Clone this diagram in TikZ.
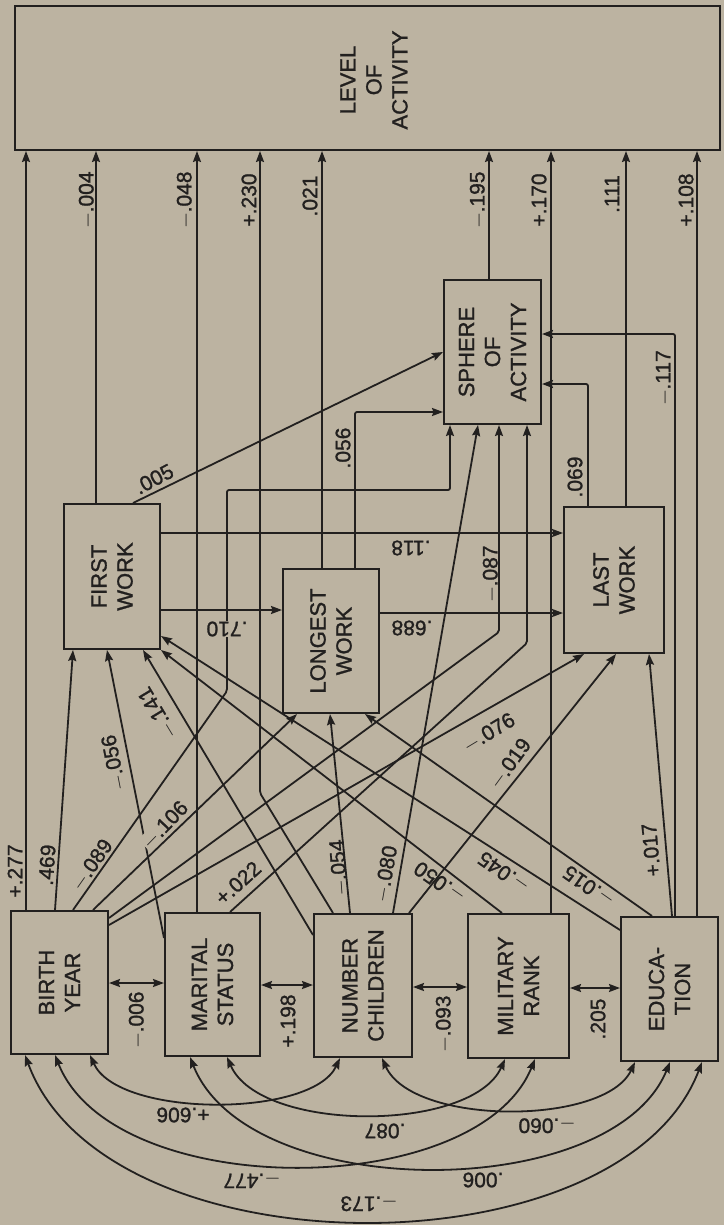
\documentclass[tikz,border=0pt]{standalone}
\usepackage{fontspec}
\setmainfont{Liberation Sans}[BoldFont=Liberation Sans,BoldFeatures={FakeBold=1.2}]
\usetikzlibrary{arrows.meta,calc}
\definecolor{bg}{RGB}{188,179,161}
\definecolor{ink}{RGB}{34,32,31}
\begin{document}
\begin{tikzpicture}[x=1pt,y=-1pt,
  arr/.tip={Stealth[length=11pt,width=8pt,inset=1.5pt]},
  box/.style={draw=ink,line width=2pt,inner sep=0pt,anchor=north west},
  conn/.style={draw=ink,line width=1.8pt,-arr,rounded corners=2pt},
  biconn/.style={draw=ink,line width=1.8pt,arr-arr},
  lbl/.style={text=ink,font=\fontsize{21}{25}\selectfont\bfseries,inner sep=1pt},
  lblf/.style={lbl,fill=bg},
  boxtext/.style={text=ink,font=\fontsize{22}{26}\selectfont\bfseries,align=center,rotate=90,inner sep=0pt}]
\useasboundingbox (0,0) rectangle (724,1225);
\fill[bg] (0,0) rectangle (724,1225);
% boxes
\node[box,minimum width=705,minimum height=144] (LA) at (14,5) {};
\node[box,minimum width=97,minimum height=144] (SA) at (443,279) {};
\node[box,minimum width=96,minimum height=145] (FW) at (63,503) {};
\node[box,minimum width=96,minimum height=144] (LW) at (282,568) {};
\node[box,minimum width=100,minimum height=146] (LaW) at (563,506) {};
\node[box,minimum width=97,minimum height=143] (BY) at (10,910) {};
\node[box,minimum width=95,minimum height=143] (MS) at (164,912) {};
\node[box,minimum width=98,minimum height=143] (NC) at (313,913) {};
\node[box,minimum width=101,minimum height=144] (MR) at (467,913) {};
\node[box,minimum width=97,minimum height=144] (ED) at (620,916) {};
\node[boxtext] at (374,80) {LEVEL\\OF\\ACTIVITY};
\node[boxtext] at (SA) {SPHERE\\OF\\ACTIVITY};
\node[boxtext] at (FW) {FIRST\\WORK};
\node[boxtext] at (LW) {LONGEST\\WORK};
\node[boxtext] at (LaW) {LAST\\WORK};
\node[boxtext] at (BY) {BIRTH\\YEAR};
\node[boxtext] at (MS) {MARITAL\\STATUS};
\node[boxtext] at (NC) {NUMBER\\CHILDREN};
\node[boxtext] at (MR) {MILITARY\\RANK};
\node[boxtext] at (ED) {EDUCA-\\TION};
% into level of activity
\draw[conn] (26,0 |- BY.north) -- (26,0 |- LA.south);
\draw[conn] (96,0 |- FW.north) -- (96,0 |- LA.south);
\draw[conn] (197,0 |- MS.north) -- (197,0 |- LA.south);
\draw[conn] (333,0 |- NC.north) -- (260,793) -- (260,0 |- LA.south);
\draw[conn] (322,0 |- LW.north) -- (322,0 |- LA.south);
\draw[conn] (489,0 |- SA.north) -- (489,0 |- LA.south);
\draw[conn] (551,0 |- MR.north) -- (551,0 |- LA.south);
\draw[conn] (626,0 |- LaW.north) -- (626,0 |- LA.south);
\draw[conn] (697,0 |- ED.north) -- (697,0 |- LA.south);
% into sphere of activity
\draw[conn] (675,0 |- ED.north) -- (675,334) -- (SA.east |- 0,334);
\draw[conn] (588,0 |- LaW.north) -- (588,384) -- (SA.east |- 0,384);
\draw[conn] (133,0 |- FW.north) -- (SA.west |- 0,352);
\draw[conn] (355,0 |- LW.north) -- (355,412) -- (SA.west |- 0,412);
\draw[conn] (73,0 |- BY.north) -- (227,691) -- (227,490) -- (450,490) -- (450,0 |- SA.south);
\draw[conn] (393,0 |- NC.north) -- (478,0 |- SA.south);
\draw[conn] (BY.east |- 0,918) -- (499,632) -- (499,0 |- SA.south);
\draw[conn] (230,0 |- MS.north) -- (527,643) -- (527,0 |- SA.south);
% into first work
\draw[conn] (55,0 |- BY.north) -- (73,0 |- FW.south);
\draw[conn] (MS.west |- 0,938) -- (107,0 |- FW.south);
\draw[conn] (NC.west |- 0,935) -- (143,0 |- FW.south);
\draw[conn] (502,0 |- MR.north) -- (FW.south east);
\draw[conn] (ED.west |- 0,930) -- (FW.east |- 0,636);
% into longest work
\draw[conn] (FW.east |- 0,610) -- (LW.west |- 0,610);
\draw[conn] (93,0 |- BY.north) -- (297,0 |- LW.south);
\draw[conn] (350,0 |- NC.north) -- (330,0 |- LW.south);
\draw[conn] (652,0 |- ED.north) -- (365,0 |- LW.south);
% into last work
\draw[conn] (FW.east |- 0,533) -- (LaW.west |- 0,533);
\draw[conn] (LW.east |- 0,613) -- (LaW.west |- 0,613);
\draw[conn] (BY.east |- 0,925) -- (584,0 |- LaW.south);
\draw[conn] (409,0 |- NC.north) -- (616,0 |- LaW.south);
\draw[conn] (672,0 |- ED.north) -- (649,0 |- LaW.south);
% correlations
\draw[biconn] (BY.east |- 0,983) -- (MS.west |- 0,983);
\draw[biconn] (MS.east |- 0,985) -- (NC.west |- 0,985);
\draw[biconn] (NC.east |- 0,987) -- (MR.west |- 0,987);
\draw[biconn] (MR.east |- 0,988) -- (ED.west |- 0,988);
\draw[biconn] (90,0 |- BY.south) .. controls (118,1118) and (312,1118) .. (340,0 |- NC.south);
\draw[biconn] (227,0 |- MS.south) .. controls (260,1133) and (472,1133) .. (505,0 |- MR.south);
\draw[biconn] (382,0 |- NC.south) .. controls (412,1126) and (605,1126) .. (635,0 |- ED.south);
\draw[biconn] (55,0 |- BY.south) .. controls (113,1202) and (477,1202) .. (535,0 |- MR.south);
\draw[biconn] (190,0 |- MS.south) .. controls (248,1204) and (612,1204) .. (670,0 |- ED.south);
\draw[biconn] (25,0 |- BY.south) .. controls (106,1275) and (621,1275) .. (702,0 |- ED.south);
% labels
\node[lbl,rotate=90] at (87,200) {$-$.004};
\node[lbl,rotate=90] at (185,200) {$-$.048};
\node[lbl,rotate=90] at (249,200) {+.230};
\node[lbl,rotate=90] at (310,196) {.021};
\node[lbl,rotate=90] at (478,200) {$-$.195};
\node[lbl,rotate=90] at (539,200) {+.170};
\node[lbl,rotate=90] at (612,194) {.111};
\node[lbl,rotate=90] at (686,200) {+.108};
\node[lbl,rotate=90] at (15,871) {+.277};
\node[lbl,rotate=86] at (47,865) {.469};
\node[lbl,rotate=55] at (92,865) {$-$.089};
\node[lblf,rotate=46] at (165,825) {$-$.106};
\node[lbl,rotate=101] at (114,763) {$-$.056};
\node[lbl,rotate=121] at (158,713) {$-$.141};
\node[lblf,rotate=180] at (227,629) {.710};
\node[lbl,rotate=180] at (411,548) {.118};
\node[lbl,rotate=180] at (412,628) {.688};
\node[lbl,rotate=28] at (154,479) {.005};
\node[lbl,rotate=90] at (343,448) {.056};
\node[lbl,rotate=90] at (575,477) {.069};
\node[lbl,rotate=90] at (664,378) {$-$.117};
\node[lbl,rotate=90] at (491,574) {$-$.087};
\node[lbl,rotate=42] at (238,883) {+.022};
\node[lbl,rotate=94] at (339,868) {$-$.054};
\node[lbl,rotate=80] at (386,874) {$-$.080};
\node[lbl,rotate=145] at (440,882) {$-$.050};
\node[lbl,rotate=145] at (504,872) {$-$.045};
\node[lbl,rotate=145] at (589,886) {$-$.015};
\node[lbl,rotate=31] at (489,733) {$-$.076};
\node[lbl,rotate=54] at (510,764) {$-$.019};
\node[lbl,rotate=95] at (651,850) {+.017};
\node[lbl,rotate=90] at (137,1020) {$-$.006};
\node[lbl,rotate=90] at (288,1021) {+.198};
\node[lbl,rotate=90] at (444,1024) {$-$.093};
\node[lbl,rotate=90] at (598,1019) {.205};
\node[lbl,rotate=180] at (183,1115) {+.606};
\node[lbl,rotate=180] at (385,1131) {.087};
\node[lbl,rotate=180] at (547,1125) {$-$.060};
\node[lbl,rotate=180] at (252,1180) {$-$.477};
\node[lbl,rotate=180] at (483,1180) {.006};
\node[lbl,rotate=180] at (369,1203) {$-$.173};
\end{tikzpicture}
\end{document}
